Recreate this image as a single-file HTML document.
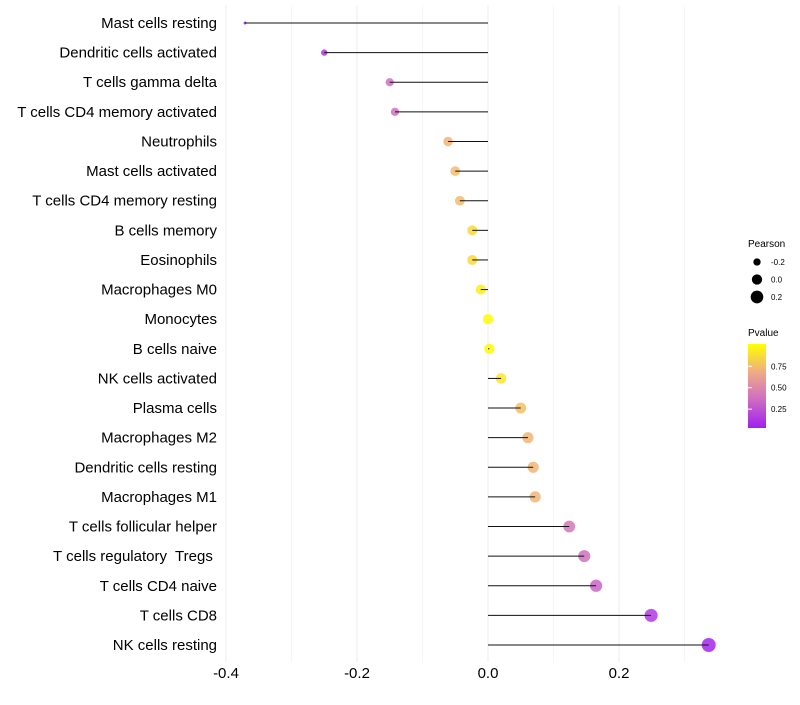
<!DOCTYPE html>
<html><head><meta charset="utf-8"><style>
body{margin:0;background:#fff;font-family:"Liberation Sans",sans-serif}
</style></head><body>
<svg id="chart" width="800" height="700" xmlns="http://www.w3.org/2000/svg">
<defs><linearGradient id="pg" x1="0" y1="1" x2="0" y2="0">
<stop offset="0" stop-color="#a020f0"/><stop offset="0.35" stop-color="#cf6fc0"/><stop offset="0.65" stop-color="#eea88a"/><stop offset="1" stop-color="#ffff00"/>
</linearGradient></defs>
<g id="grid"></g><g id="dots"></g><g id="stems"></g><g id="labels"></g>
<g font-size="10">
<text x="748" y="247">Pearson</text>
<g id="sizeleg"></g>
<text x="748" y="336">Pvalue</text>
<rect x="748" y="344" width="18" height="84" fill="url(#pg)"/>
<g id="colleg" font-size="8"></g>
</g>
</svg>
<script>
const categories=["Mast cells resting","Dendritic cells activated","T cells gamma delta","T cells CD4 memory activated","Neutrophils","Mast cells activated","T cells CD4 memory resting","B cells memory","Eosinophils","Macrophages M0","Monocytes","B cells naive","NK cells activated","Plasma cells","Macrophages M2","Dendritic cells resting","Macrophages M1","T cells follicular helper","T cells regulatory  Tregs ","T cells CD4 naive","T cells CD8","NK cells resting"];
const pearson=[-0.371,-0.250,-0.150,-0.142,-0.061,-0.050,-0.043,-0.024,-0.024,-0.011,0.000,0.002,0.020,0.050,0.061,0.069,0.072,0.124,0.147,0.165,0.249,0.337];
const pvalue=[0.05,0.12,0.38,0.38,0.72,0.74,0.74,0.86,0.86,0.95,1.0,1.0,0.92,0.76,0.72,0.72,0.72,0.42,0.38,0.33,0.15,0.06];
const xTicks=[-0.4,-0.2,0.0,0.2];
const xMinor=[-0.3,-0.1,0.1,0.3];
const sizeLegend=[-0.2,0.0,0.2];
const colorTicks=[0.75,0.50,0.25];
const NS="http://www.w3.org/2000/svg";
const X=v=>488+v*655;
const Y=i=>23+i*(622/21);
const R=v=>Math.sqrt(Math.max(1,2.25+(v+0.37)*66));
const PY=p=>428-(p-0.03)/0.98*84;
function lerp(a,b,t){return Math.round(a+(b-a)*t)}
const stops=[[0,[160,32,240]],[0.35,[207,111,192]],[0.65,[238,168,138]],[1,[255,255,0]]];
function col(p){let t=Math.min(1,Math.max(0,(p-0.03)/0.98));for(let k=1;k<stops.length;k++){if(t<=stops[k][0]){const a=stops[k-1],b=stops[k];const u=(t-a[0])/(b[0]-a[0]);return `rgb(${lerp(a[1][0],b[1][0],u)},${lerp(a[1][1],b[1][1],u)},${lerp(a[1][2],b[1][2],u)})`;}}return "rgb(255,255,0)";}
function mk(tag,attrs,parent){const e=document.createElementNS(NS,tag);for(const k in attrs)e.setAttribute(k,attrs[k]);parent.appendChild(e);return e;}
const grid=document.getElementById('grid'),dots=document.getElementById('dots'),stems=document.getElementById('stems'),labels=document.getElementById('labels');
xMinor.forEach(v=>{const l=mk('line',{x1:X(v),x2:X(v),y1:5,y2:662,stroke:'#f4f4f4','stroke-width':0.8},grid);

});
xTicks.forEach(v=>{const l=mk('line',{x1:X(v),x2:X(v),y1:5,y2:662,stroke:'#eeeeee','stroke-width':1},grid);


const t=mk('text',{x:X(v),y:678,'text-anchor':'middle','font-size':15,fill:'#000'},labels);
t.textContent=v.toFixed(1);

});
categories.forEach((c,i)=>{const y=Y(i),v=pearson[i];
const d=mk('circle',{cx:X(v),cy:y,r:R(v),fill:col(pvalue[i]),'fill-opacity':0.85},dots);


const l=mk('line',{x1:X(0),x2:X(v),y1:y,y2:y,stroke:'#111','stroke-width':1},stems);


const t=mk('text',{x:217,y:y+5,'text-anchor':'end','font-size':15,fill:'#000','xml:space':'preserve',style:'white-space:pre'},labels);
t.textContent=c;

});
const sl=document.getElementById('sizeleg');
sizeLegend.forEach((v,k)=>{const y=262+k*17.5;
const d=mk('circle',{cx:757,cy:y,r:R(v),fill:'#000'},sl);


const t=mk('text',{x:771,y:y+3,'font-size':8},sl);
t.textContent=v.toFixed(1);

});
const cl=document.getElementById('colleg');
colorTicks.forEach(p=>{const y=PY(p);
const l=mk('line',{x1:748,x2:752,y1:y,y2:y,stroke:'#fff','stroke-width':1},cl);


const t=mk('text',{x:771,y:y+3},cl);
t.textContent=p.toFixed(2);

});
</script>
</body></html>
